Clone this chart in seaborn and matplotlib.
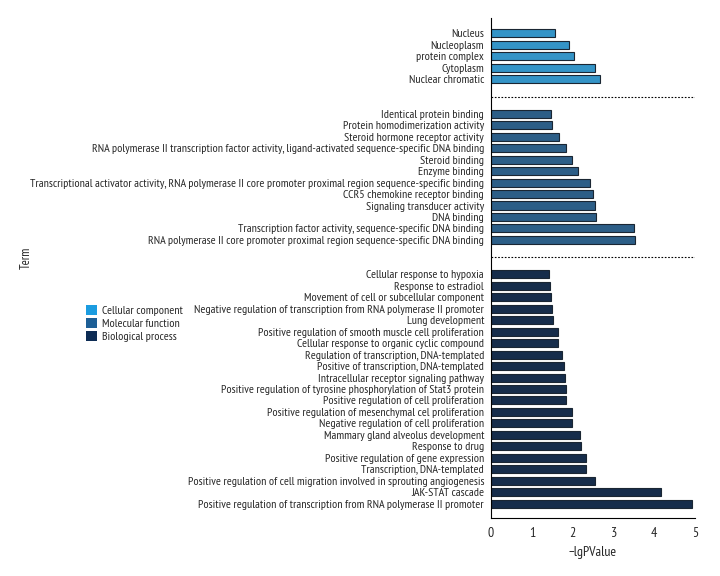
import pandas as pd
import matplotlib
matplotlib.use('Agg')
import matplotlib.pyplot as plt
import matplotlib.patches as mpatches
import seaborn as sns

sns.set_style('white')
plt.rcParams['font.family'] = ['PT Sans Narrow', 'Roboto Condensed', 'DejaVu Sans']

# data, top to bottom as in the picture
cc_terms = ['Nucleus', 'Nucleoplasm', 'protein complex', 'Cytoplasm', 'Nuclear chromatic']
cc_vals = [1.56, 1.91, 2.03, 2.54, 2.66]

mf_terms = ['Identical protein binding',
            'Protein homodimerization activity',
            'Steroid hormone receptor activity',
            'RNA polymerase II transcription factor activity, ligand-activated sequence-specific DNA binding',
            'Steroid binding',
            'Enzyme binding',
            'Transcriptional activator activity, RNA polymerase II core promoter proximal region sequence-specific binding',
            'CCR5 chemokine receptor binding',
            'Signaling transducer activity',
            'DNA binding',
            'Transcription factor activity, sequence-specific DNA binding',
            'RNA polymerase II core promoter proximal region sequence-specific DNA binding']
mf_vals = [1.48, 1.50, 1.66, 1.84, 1.98, 2.14, 2.43, 2.50, 2.55, 2.58, 3.51, 3.54]

bp_terms = ['Cellular response to hypoxia',
            'Response to estradiol',
            'Movement of cell or subcellular component',
            'Negative regulation of transcription from RNA polymerase II promoter',
            'Lung development',
            'Positive regulation of smooth muscle cell proliferation',
            'Cellular response to organic cyclic compound',
            'Regulation of transcription, DNA-templated',
            'Positive of transcription, DNA-templated',
            'Intracellular receptor signaling pathway',
            'Positive regulation of tyrosine phosphorylation of Stat3 protein',
            'Positive regulation of cell proliferation',
            'Positive regulation of mesenchymal cel proliferation',
            'Negative regulation of cell proliferation',
            'Mammary gland alveolus development',
            'Response to drug',
            'Positive regulation of gene expression',
            'Transcription, DNA-templated',
            'Positive regulation of cell migration involved in sprouting angiogenesis',
            'JAK-STAT cascade',
            'Positive regulation of transcription from RNA polymerase II promoter']
bp_vals = [1.42, 1.44, 1.46, 1.50, 1.52, 1.64, 1.64, 1.75, 1.78, 1.82, 1.83,
           1.84, 1.98, 1.99, 2.17, 2.21, 2.34, 2.34, 2.56, 4.16, 4.93]

groups = ['Cellular component', 'Molecular function', 'Biological process']
colors = ['#1b9ce0', '#1d5f96', '#0d2c54']

df = pd.DataFrame({
    'term': cc_terms + mf_terms + bp_terms,
    'value': cc_vals + mf_vals + bp_vals,
    'group': [groups[0]] * len(cc_terms) + [groups[1]] * len(mf_terms) + [groups[2]] * len(bp_terms),
})

# two empty slots between groups
gap1, gap2, gap3, gap4 = '_g1', '_g2', '_g3', '_g4'
order = cc_terms + [gap1, gap2] + mf_terms + [gap3, gap4] + bp_terms

fig = plt.figure(figsize=(7.2, 5.76), dpi=100)
ax = fig.add_axes([491 / 720, 1 - 518 / 576, 204 / 720, 500 / 576])

sns.barplot(data=df, x='value', y='term', hue='group', order=order,
            palette=dict(zip(groups, colors)), dodge=False, width=0.7,
            edgecolor='#1a2633', linewidth=0.8, legend=False, ax=ax)

real_pos = [i for i, t in enumerate(order) if not t.startswith('_g')]
ax.set_yticks(real_pos)
ax.set_yticklabels([order[i] for i in real_pos], fontsize=8.6)
ax.set_ylim(len(order) - 1 + 1.25, -1.35)
ax.set_xlim(0, 5)
ax.set_xticks([0, 1, 2, 3, 4, 5])
ax.tick_params(axis='x', labelsize=10, length=3, width=0.8)
ax.tick_params(axis='y', length=3, width=0.8, pad=2)

for p in [order.index(gap1) + 0.5, order.index(gap3) + 0.5]:
    ax.axhline(p, color='black', linestyle=(0, (1.5, 1.5)), linewidth=0.8)

sns.despine(ax=ax)
for s in ['left', 'bottom']:
    ax.spines[s].set_color('black')
    ax.spines[s].set_linewidth(0.8)

ax.set_xlabel('\u2212lgPValue', fontsize=10, labelpad=4)
ax.set_ylabel('')
fig.text(26 / 720, 1 - 258 / 576, 'Term', rotation=90, fontsize=9,
         ha='center', va='center')

handles = [mpatches.Patch(facecolor=c, edgecolor='none') for c in colors]
fig.legend(handles, groups, loc='upper left', bbox_to_anchor=(80 / 720, 1 - 299 / 576),
           frameon=False, fontsize=8.6, handlelength=0.9, handleheight=0.9,
           handletextpad=0.4, labelspacing=0.15, borderpad=0)

fig.savefig('out.png', dpi=100)
